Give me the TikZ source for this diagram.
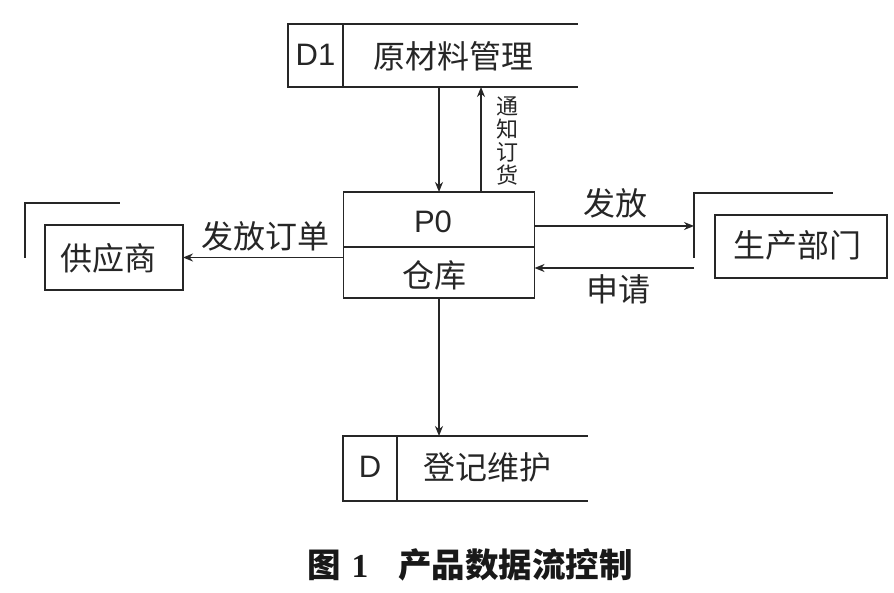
\documentclass[tikz,border=0pt]{standalone}
\usepackage{fontspec}
\setmainfont{Liberation Sans}
\newfontfamily\cjk{Noto Sans CJK SC}
\newfontfamily\capserif{Liberation Serif}
\usetikzlibrary{arrows.meta}
\tikzset{
  ln/.style={line width=1.8pt, draw=black!85},
  arr/.style={ln, -{Stealth[length=10pt,width=8pt]}},
  boxn/.style={ln, rectangle, inner sep=0pt, outer sep=0pt},
  txt/.style={inner sep=0pt, text=black!85},
  big/.style={font=\fontsize{32}{34}\selectfont\cjk},
  lat/.style={font=\fontsize{31}{33}\selectfont},
}
\begin{document}
\begin{tikzpicture}[x=1pt,y=-1pt]
\useasboundingbox[fill=white] (0,0) rectangle (894,593);

% process P0
\node[boxn, draw, minimum width=191pt, minimum height=55pt] (p0top) at (439,219.5) {};
\node[boxn, draw, minimum width=191pt, minimum height=51pt] (p0bot) at (439,272.5) {};
\node[txt, lat] (p0t) at (433,222) {P0};
\node[txt, big] (p0b) at (434,275) {仓库};

% store D1
\node[boxn, draw, minimum width=55pt, minimum height=63pt] (d1id) at (315.5,55.5) {};
\node[txt, lat] (d1idt) at (315.5,55) {D1};
\draw[ln] (d1id.north east) -- ++(235,0);
\draw[ln] (d1id.south east) -- ++(235,0);
\node[txt, big] (d1) at (453,56) {原材料管理};

% store D
\node[boxn, draw, minimum width=54pt, minimum height=65pt] (did) at (370,468.5) {};
\node[txt, lat] (didt) at (370,467) {D};
\draw[ln] (did.north east) -- ++(191,0);
\draw[ln] (did.south east) -- ++(191,0);
\node[txt, big] (dd) at (487,467) {登记维护};

% supplier
\node[boxn, draw, minimum width=138pt, minimum height=65pt] (sup) at (114,257.5) {};
\node[txt, big] (supt) at (108,258) {供应商};
\draw[ln] ([xshift=-20pt,yshift=-33pt]sup.north west) -- ([xshift=-20pt,yshift=22pt]sup.north west) -- ([xshift=75pt,yshift=22pt]sup.north west);

% production dept
\node[boxn, draw, minimum width=172pt, minimum height=63pt] (prod) at (801,246.5) {};
\node[txt, big] (prodt) at (797,245) {生产部门};
\coordinate (pc) at (694,193);
\draw[ln] (694,258) -- (pc) -- ++(139,0);
\coordinate (fa) at (694,226);
\coordinate (sq) at (694,268);

% flows
\draw[arr] (p0top.north |- d1id.south) -- (p0top.north);
\draw[arr] ([xshift=42pt]p0top.north) -- ([xshift=42pt]p0top.north |- d1id.south);
\node[txt, font=\fontsize{22}{23}\selectfont\cjk, align=center] (tz) at (507,141) {通\\知\\订\\货};

\draw[arr] (p0bot.west |- sup.east) -- (sup.east);
\node[txt, big] (l1) at (265,236) {发放订单};

\draw[arr] (p0top.east |- fa) -- (fa);
\node[txt, big] (l2) at (615,203) {发放};
\draw[arr] (sq) -- (p0bot.east |- sq);
\node[txt, big] (l3) at (618,289) {申请};

\draw[arr] (p0bot.south) -- (p0bot.south |- did.north);

% caption
\node[txt, text=black!90] (cap) at (470,565) {\fontsize{33.5}{36}\selectfont{\cjk\bfseries 图}\hspace{11pt}{\capserif\bfseries 1}\hspace{30pt}{\cjk\bfseries 产品数据流控制}};
\end{tikzpicture}
\end{document}
